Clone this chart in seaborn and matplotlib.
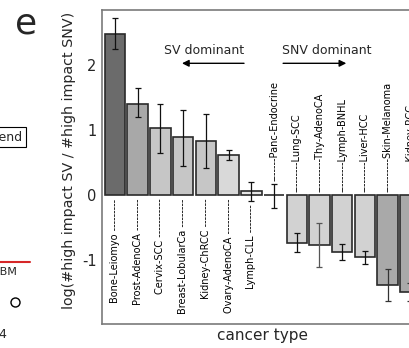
import matplotlib
matplotlib.use("Agg")
import matplotlib.pyplot as plt
from matplotlib.lines import Line2D
import seaborn as sns
import pandas as pd
import numpy as np

# ---- data ----
cancers = ["Bone-Leiomyo", "Prost-AdenoCA", "Cervix-SCC", "Breast-LobularCa",
           "Kidney-ChRCC", "Ovary-AdenoCA", "Lymph-CLL", "Panc-Endocrine",
           "Lung-SCC", "Thy-AdenoCA", "Lymph-BNHL", "Liver-HCC",
           "Skin-Melanoma", "Kidney-RCC"]
values = [2.48, 1.41, 1.03, 0.89, 0.83, 0.62, 0.06, 0.0,
          -0.73, -0.77, -0.88, -0.95, -1.38, -1.49]
err_low = [2.25, 1.20, 0.65, 0.45, 0.42, 0.55, -0.09, -0.20,
           -0.87, -1.10, -1.00, -1.06, -1.63, -1.63]
err_high = [2.73, 1.65, 1.40, 1.31, 1.25, 0.70, 0.20, 0.17,
            -0.58, -0.43, -0.75, -0.85, -1.14, -1.35]
bar_colors = ["#6b6b6b", "#a8a8a8", "#c6c6c6", "#c6c6c6", "#c6c6c6", "#d9d9d9",
              "#e6e6e6", "#e6e6e6", "#d2d2d2", "#d2d2d2", "#d2d2d2", "#d2d2d2",
              "#a9a9a9", "#a9a9a9"]
err_colors = ["#111111"] * 9 + ["#555555"] + ["#111111"] * 2 + ["#333333", "#333333"]
leader_dashes = [9, 9, 11, 8, 8, 10, 8, 7, 9, 10, 9, 9, 10, 9]
yticks = [-1, 0, 1, 2]

# ---- figure ----
sns.set_style("white")
plt.rcParams["font.family"] = ["DejaVu Sans"]
fig = plt.figure(figsize=(4.1, 3.48), dpi=100)
W, H = 410.0, 348.0
ax = fig.add_axes([102 / W, 24 / H, 322 / W, 314 / H])

df = pd.DataFrame({"cancer": cancers, "value": values})
sns.barplot(data=df, x="cancer", y="value", hue="cancer", palette=bar_colors,
            legend=False, width=0.9, edgecolor="#2a2a2a", linewidth=1.2,
            saturation=1, ax=ax)

xs = np.arange(len(cancers))
for i in xs:
    v = values[i]
    ax.errorbar([i], [v], yerr=[[v - err_low[i]], [err_high[i] - v]], fmt="none",
                ecolor=err_colors[i], elinewidth=0.9, capsize=2.2, capthick=0.9,
                zorder=5)

# category labels with dashed leaders
for i, name in enumerate(cancers):
    if values[i] > 0:
        y0 = min(0, err_low[i]) - 0.05
        ax.text(i, y0, name + " " + "-" * leader_dashes[i], rotation=90,
                ha="center", va="top", fontsize=7, color="black")
    else:
        y0 = max(0, err_high[i]) + 0.05
        ax.text(i, y0, "-" * leader_dashes[i] + name, rotation=90,
                ha="center", va="bottom", fontsize=7, color="black")

ax.set_xlim(-0.57, 13.6)
ax.set_ylim(-1.98, 2.85)
ax.set_xticks([])
ax.set_yticks(yticks)
ax.set_yticklabels([str(t) for t in yticks], fontsize=10.5)
ax.tick_params(axis="y", length=0, pad=4)
ax.set_xlabel("cancer type", fontsize=11)
ax.set_ylabel("log(#high impact SV / #high impact SNV)", fontsize=10.3)
ax.xaxis.set_label_coords(0.5, -0.012)
ax.yaxis.set_label_coords(-0.081, 0.522)
for s in ax.spines.values():
    s.set_color("#7a7a7a")
    s.set_linewidth(1.2)

# annotations
ax.text(3.92, 2.23, "SV dominant", ha="center", va="center", fontsize=9)
ax.annotate("", xy=(2.95, 2.03), xytext=(5.68, 2.03),
            arrowprops=dict(arrowstyle="-|>", color="black", lw=1.0, mutation_scale=10,
                            shrinkA=0, shrinkB=0))
ax.text(9.32, 2.23, "SNV dominant", ha="center", va="center", fontsize=9)
ax.annotate("", xy=(10.18, 2.03), xytext=(7.4, 2.03),
            arrowprops=dict(arrowstyle="-|>", color="black", lw=1.0, mutation_scale=10,
                            shrinkA=0, shrinkB=0))

# panel label and remnants of the neighbouring panel
fig.text(15 / W, 1 - 34 / H, "e", fontsize=26, va="baseline", ha="left")
fig.text(23 / W, 1 - 137 / H, "Legend", ha="right", va="center", fontsize=9,
         bbox=dict(boxstyle="square,pad=0.25", fc="white", ec="black", lw=0.8))
fig.add_artist(Line2D([0, 30 / W], [1 - 262 / H] * 2, color="#d62728", lw=1.5))
fig.text(17 / W, 1 - 272 / H, "GBM", ha="right", va="center", fontsize=8)
fig.add_artist(Line2D([15 / W], [1 - 302 / H], marker="o", mfc="none", mec="black",
                      ms=6.5, mew=1.0, ls="none"))
fig.text(6 / W, 1 - 335 / H, "4", ha="right", va="center", fontsize=9)

fig.savefig("out.png", dpi=100)
